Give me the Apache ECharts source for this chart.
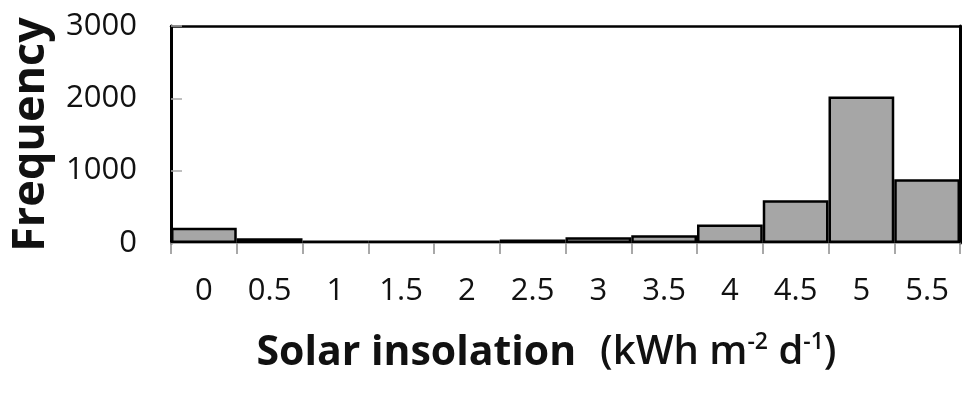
<!DOCTYPE html>
<html>
<head>
<meta charset="utf-8">
<script src="https://cdn.jsdelivr.net/npm/echarts@6/dist/echarts.min.js"></script>
<style>
  html, body { margin: 0; padding: 0; background: #fff; }
  #chart { width: 975px; height: 396px; }
</style>
</head>
<body>
<div id="chart"></div>
<script>
// bins of solar insolation and their counts
const categories = ["0", "0.5", "1", "1.5", "2", "2.5", "3", "3.5", "4", "4.5", "5", "5.5"];
const frequency = [210, 65, 35, 35, 35, 50, 78, 108, 255, 590, 2025, 880];
const yTicks = [0, 1000, 2000, 3000];

const chart = echarts.init(document.getElementById("chart"));
const font = "'Open Sans', sans-serif";
const axisLabel = {
  fontSize: 31,
  color: "#111",
  fontFamily: font
};

chart.setOption({
  backgroundColor: "#fff",
  animation: false,
  grid: {
    left: 171,
    right: 15,
    top: 26,
    bottom: 153,
    containLabel: false,
    outerBoundsMode: "none"
  },
  xAxis: [
    {
      type: "category",
      data: categories,
      boundaryGap: true,
      axisLine: { lineStyle: { color: "#8c8c8c", width: 1.5 } },
      axisTick: { show: true, length: 11, lineStyle: { color: "#8c8c8c", width: 1.5 } },
      axisLabel: Object.assign({ margin: 33, interval: 0 }, axisLabel),
      name: "{b|Solar insolation}{n|(kWh m}{s|-2}{n| d}{s|-1}{n|)}",
      nameLocation: "middle",
      nameGap: 84,
      nameTextStyle: {
        padding: [0, 38, 0, 0],
        rich: {
          b: { fontSize: 41, fontWeight: "bold", color: "#111", fontFamily: font, lineHeight: 52, padding: [0, 24, 0, 0] },
          n: { fontSize: 40, fontWeight: 600, color: "#111", fontFamily: font, lineHeight: 52 },
          s: { fontSize: 23, fontWeight: 600, color: "#111", fontFamily: font, verticalAlign: "top", lineHeight: 52, padding: [4, 0, 0, 0] }
        }
      }
    },
    {
      type: "category",
      data: categories,
      position: "top",
      axisLine: { onZero: false, lineStyle: { color: "#000", width: 2.5 } },
      axisTick: { show: false },
      axisLabel: { show: false }
    }
  ],
  yAxis: [
    {
      type: "value",
      min: 0,
      max: 3000,
      interval: 1000,
      splitLine: { show: false },
      axisLine: { show: true, lineStyle: { color: "#000", width: 3 } },
      axisTick: { show: true, inside: true, length: 11, lineStyle: { color: "#aaa", width: 1.5 } },
      axisLabel: Object.assign({
        margin: 34,
        customValues: yTicks,
        formatter: (v) => String(v)
      }, axisLabel),
      name: "Frequency",
      nameLocation: "middle",
      nameGap: 117,
      nameTextStyle: {
        fontSize: 45,
        fontWeight: "bold",
        color: "#111",
        fontFamily: font
      }
    },
    {
      type: "value",
      min: 0,
      max: 3000,
      position: "right",
      splitLine: { show: false },
      axisLine: { show: true, onZero: false, lineStyle: { color: "#000", width: 3 } },
      axisTick: { show: false },
      axisLabel: { show: false }
    }
  ],
  series: [
    {
      type: "bar",
      data: frequency,
      barCategoryGap: 0,
      itemStyle: {
        color: "#a6a6a6",
        borderColor: "#000",
        borderWidth: 2.5
      }
    }
  ]
});
</script>
</body>
</html>
